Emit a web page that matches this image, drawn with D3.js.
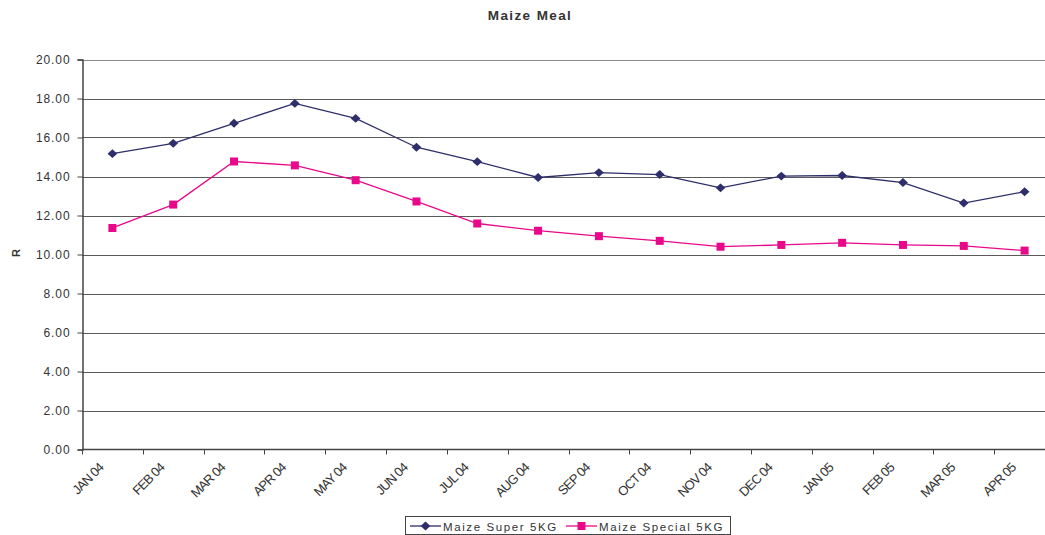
<!DOCTYPE html>
<html>
<head>
<meta charset="utf-8">
<script src="https://cdn.jsdelivr.net/npm/d3@7"></script>
<style>
  body { margin: 0; background: #fff; }
  text { font-family: "Liberation Sans", Arial, sans-serif; fill: #333; }
</style>
</head>
<body>
<script>
// months along the bottom
var months = ["JAN 04", "FEB 04", "MAR 04", "APR 04", "MAY 04", "JUN 04", "JUL 04", "AUG 04",
              "SEP 04", "OCT 04", "NOV 04", "DEC 04", "JAN 05", "FEB 05", "MAR 05", "APR 05"];
var superVals = [15.17, 15.7, 16.73, 17.75, 16.98, 15.5, 14.76, 13.95,
                 14.2, 14.1, 13.42, 14.02, 14.05, 13.69, 12.64, 13.22];
var specialVals = [11.36, 12.56, 14.77, 14.57, 13.81, 12.72, 11.59, 11.22,
                   10.94, 10.7, 10.4, 10.49, 10.6, 10.49, 10.44, 10.2];
var yTicks = [0, 2, 4, 6, 8, 10, 12, 14, 16, 18, 20];
var seriesNames = ["Maize Super 5KG", "Maize Special 5KG"];

var W = 1045, H = 535;
// plot box (right edge runs past the picture, as in the original)
var plotL = 82, plotR = 1055, plotT = 59.5, plotB = 449.5;

var svg = d3.select("body").append("svg")
    .attr("width", W).attr("height", H);

var x = d3.scaleBand().domain(months).range([plotL, plotR]);
var y = d3.scaleLinear().domain([0, 20]).range([plotB, plotT]);

// gridlines
svg.append("g").selectAll("line")
  .data(yTicks.slice(1))
  .enter().append("line")
  .attr("x1", plotL).attr("x2", plotR)
  .attr("y1", function(d) { return Math.round(y(d)) + 0.5; })
  .attr("y2", function(d) { return Math.round(y(d)) + 0.5; })
  .attr("stroke", function(d) { return d == 20 ? "#8a8a8a" : "#5a5a5a"; })
  .attr("stroke-width", 1);

// y axis
var yAxis = svg.append("g")
  .attr("transform", "translate(" + (plotL + 0.5) + ",0)")
  .call(d3.axisLeft(y).tickValues(yTicks).tickFormat(d3.format(".2f")).tickSize(5).tickPadding(7));
yAxis.select(".domain").attr("stroke", "#444").attr("stroke-width", 1.5);
yAxis.selectAll(".tick line").attr("stroke", "#444");
yAxis.selectAll("text").style("font-size", "12px").style("letter-spacing", "0.9px").attr("fill", "#333");

// x axis, ticks between categories
var xAxis = svg.append("g")
  .attr("transform", "translate(0," + plotB + ")");
xAxis.append("line")
  .attr("x1", plotL).attr("x2", plotR)
  .attr("stroke", "#444").attr("stroke-width", 1.5);
xAxis.selectAll(".tk")
  .data(months)
  .enter().append("line")
  .attr("x1", function(d) { return Math.round(x(d)) + 0.5; })
  .attr("x2", function(d) { return Math.round(x(d)) + 0.5; })
  .attr("y1", 0).attr("y2", 5)
  .attr("stroke", "#444");
xAxis.selectAll(".lbl")
  .data(months)
  .enter().append("text")
  .attr("text-anchor", "end")
  .attr("transform", function(d) {
    return "translate(" + (x(d) + x.bandwidth() / 2 - 8) + ",19) rotate(-45)";
  })
  .style("font-size", "13px")
  .style("letter-spacing", "-0.8px")
  .attr("fill", "#333")
  .text(function(d) { return d; });

// y label
svg.append("text")
  .attr("transform", "translate(20,253) rotate(-90)")
  .attr("text-anchor", "middle")
  .style("font-size", "11px").style("font-weight", "bold")
  .text("R");

// title
svg.append("text")
  .attr("x", 530).attr("y", 20)
  .attr("text-anchor", "middle")
  .style("font-size", "13.5px").style("font-weight", "bold")
  .style("letter-spacing", "1.4px")
  .attr("fill", "#333")
  .text("Maize Meal");

var cx = function(d, i) { return x(months[i]) + x.bandwidth() / 2; };
var line = d3.line().x(cx).y(function(d) { return y(d); });

var superColor = "#2e2e6a", specialColor = "#e8088a";

svg.append("path").datum(superVals)
  .attr("d", line).attr("fill", "none")
  .attr("stroke", superColor).attr("stroke-width", 1.3);
svg.append("path").datum(specialVals)
  .attr("d", line).attr("fill", "none")
  .attr("stroke", specialColor).attr("stroke-width", 1.3);

var diamond = d3.symbol().type(d3.symbolDiamond2).size(50);
svg.append("g").selectAll("path")
  .data(superVals)
  .enter().append("path")
  .attr("d", diamond)
  .attr("transform", function(d, i) { return "translate(" + cx(d, i) + "," + y(d) + ") scale(1.1,1)"; })
  .attr("fill", superColor);

svg.append("g").selectAll("rect")
  .data(specialVals)
  .enter().append("rect")
  .attr("x", function(d, i) { return cx(d, i) - 4; })
  .attr("y", function(d) { return y(d) - 4; })
  .attr("width", 8).attr("height", 8)
  .attr("fill", specialColor);

// legend
var lg = svg.append("g");
lg.append("rect")
  .attr("x", 405.5).attr("y", 516.5).attr("width", 325).attr("height", 18)
  .attr("fill", "#fff").attr("stroke", "#444").attr("stroke-width", 1);

var legendItems = [
  { name: seriesNames[0], color: superColor, x0: 410, shape: "diamond" },
  { name: seriesNames[1], color: specialColor, x0: 566, shape: "square" }
];
legendItems.forEach(function(it) {
  lg.append("line")
    .attr("x1", it.x0).attr("x2", it.x0 + 31)
    .attr("y1", 526).attr("y2", 526)
    .attr("stroke", it.color).attr("stroke-width", 1.3);
  if (it.shape == "diamond") {
    lg.append("path").attr("d", diamond)
      .attr("transform", "translate(" + (it.x0 + 15.5) + ",526) scale(1.1,1)")
      .attr("fill", it.color);
  } else {
    lg.append("rect").attr("x", it.x0 + 11.5).attr("y", 522)
      .attr("width", 8).attr("height", 8).attr("fill", it.color);
  }
  lg.append("text")
    .attr("x", it.x0 + 33).attr("y", 530.5)
    .style("font-size", "11.5px").style("letter-spacing", "1.6px")
    .attr("fill", "#333")
    .text(it.name);
});
</script>
</body>
</html>
